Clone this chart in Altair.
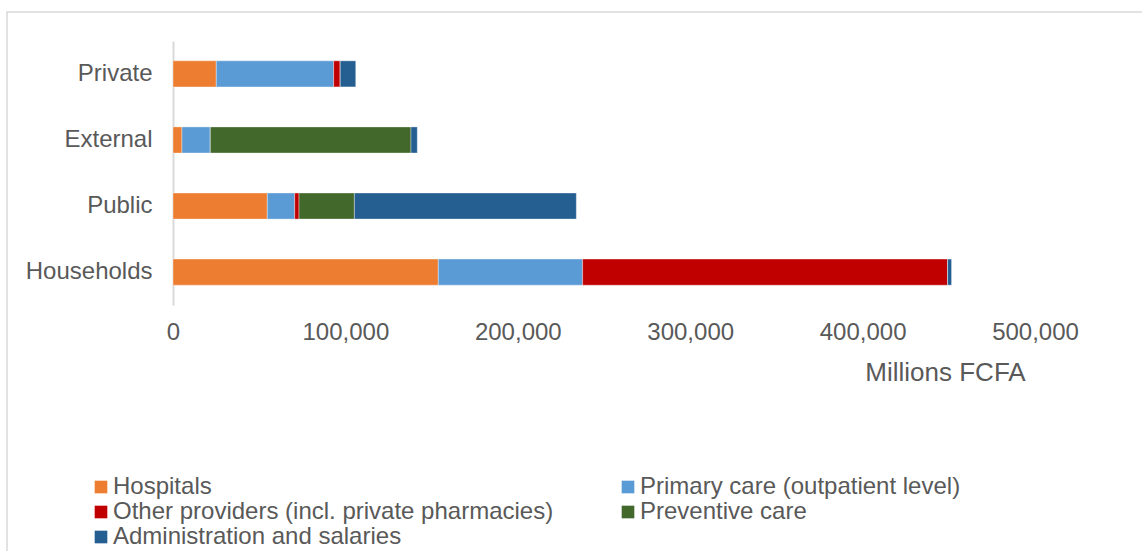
import altair as alt
import pandas as pd

sources = ["Private", "External", "Public", "Households"]
categories = [
    "Hospitals",
    "Primary care (outpatient level)",
    "Other providers (incl. private pharmacies)",
    "Preventive care",
    "Administration and salaries",
]
colors = ["#ED7D31", "#5B9BD5", "#C00000", "#43682B", "#255E91"]
# legend fills column by column: order so that rows read as in the reference
legend_order = [0, 2, 4, 1, 3]

hospitals = [25100, 5200, 54700, 153900]
primary_care = [68100, 16450, 15900, 83700]
other_providers = [3800, 0, 2500, 211700]
preventive = [0, 116400, 32100, 0]
administration = [9000, 3650, 128750, 2300]

series = [hospitals, primary_care, other_providers, preventive, administration]
rows = []
for ci, (cat, vals) in enumerate(zip(categories, series)):
    for s, v in zip(sources, vals):
        rows.append({"source": s, "category": cat, "value": v, "order": ci})
df = pd.DataFrame(rows)

leg_domain = [categories[i] for i in legend_order]
leg_range = [colors[i] for i in legend_order]

FONT = "Liberation Sans"
GREY = "#595959"
FS = 24

bars = alt.Chart(df).mark_bar(
    stroke="#ffffff", strokeWidth=0.6, strokeOpacity=0.6
).encode(
    y=alt.Y(
        "source:N",
        sort=sources,
        scale=alt.Scale(paddingInner=0.605, paddingOuter=0.3),
        axis=alt.Axis(
            title=None,
            ticks=False,
            domainColor="#D9D9D9",
            domainWidth=2,
            labelFontSize=FS,
            labelFont=FONT,
            labelColor=GREY,
            labelPadding=21,
        ),
    ),
    x=alt.X(
        "value:Q",
        stack="zero",
        scale=alt.Scale(domain=[0, 500000], nice=False),
        axis=alt.Axis(
            title="Millions FCFA",
            values=[0, 100000, 200000, 300000, 400000, 500000],
            format=",d",
            domain=False,
            ticks=False,
            grid=False,
            labelFontSize=FS,
            labelFont=FONT,
            labelColor=GREY,
            labelPadding=15,
            labelFlush=False,
            titleFont=FONT,
            titleFontSize=26,
            titleFontWeight="normal",
            titleColor=GREY,
            titleX=772,
            titleY=67,
            titleAlign="center",
            titleBaseline="middle",
        ),
    ),
    color=alt.Color(
        "category:N",
        scale=alt.Scale(domain=leg_domain, range=leg_range),
        legend=alt.Legend(
            title=None,
            orient="none",
            legendX=-84,
            legendY=434,
            columns=2,
            columnPadding=62,
            rowPadding=1,
            symbolType="square",
            symbolSize=160,
            symbolStrokeWidth=0,
            labelFontSize=FS,
            labelFont=FONT,
            labelColor=GREY,
            labelOffset=0,
            labelLimit=700,
        ),
    ),
    order=alt.Order("order:Q", sort="ascending"),
)

border = alt.Chart(pd.DataFrame({"a": [0]})).mark_rect(
    fill="transparent", stroke="#D9D9D9", strokeWidth=1.5
).encode(
    x=alt.value(-166), x2=alt.value(1200), y=alt.value(-29), y2=alt.value(700)
)

chart = alt.layer(border, bars).properties(
    width=862,
    height=264,
    background="white",
    padding={"left": 173, "top": 41, "right": 107, "bottom": 246},
    autosize=alt.AutoSizeParams(type="none"),
).configure_view(strokeWidth=0, stroke="transparent")

chart.save("out.html", embed_options={"renderer": "svg", "actions": False})
